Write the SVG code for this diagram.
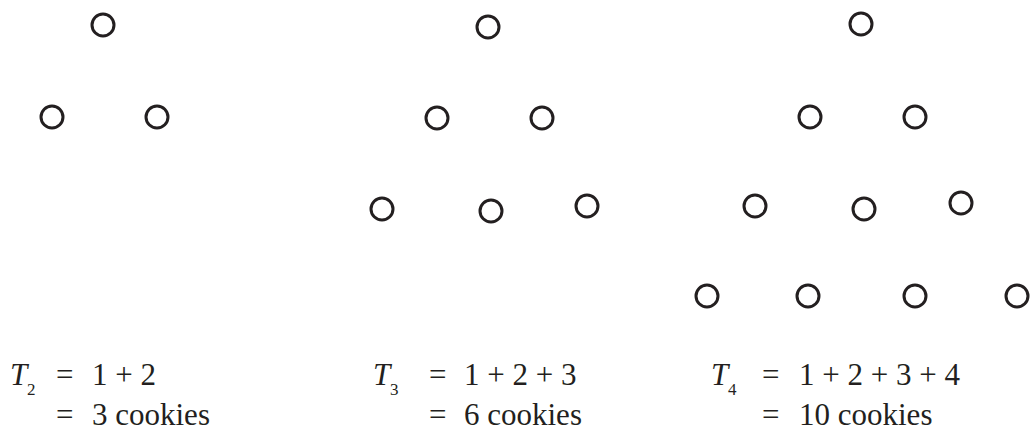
<svg xmlns="http://www.w3.org/2000/svg" width="1031" height="430" viewBox="0 0 1031 430">
<style>
.c{fill:none;stroke:#231f20;stroke-width:3}
.t{font-family:"Liberation Serif","Times New Roman",serif;font-size:31px;fill:#231f20}
.i{font-style:italic}
.s{font-size:17px}
</style>
<rect width="1031" height="430" fill="#fff"/>
<g id="T2">
<circle class="c" cx="103" cy="25" r="11"/>
<circle class="c" cx="52" cy="117" r="11"/>
<circle class="c" cx="157" cy="117" r="11"/>
</g>
<g id="T3">
<circle class="c" cx="488" cy="27" r="11"/>
<circle class="c" cx="437" cy="118" r="11"/>
<circle class="c" cx="542" cy="118" r="11"/>
<circle class="c" cx="382" cy="209" r="11"/>
<circle class="c" cx="491" cy="211" r="11"/>
<circle class="c" cx="587" cy="206" r="11"/>
</g>
<g id="T4">
<circle class="c" cx="861" cy="24" r="11"/>
<circle class="c" cx="810" cy="117" r="11"/>
<circle class="c" cx="915" cy="117" r="11"/>
<circle class="c" cx="755" cy="206" r="11"/>
<circle class="c" cx="864" cy="209" r="11"/>
<circle class="c" cx="961" cy="203" r="11"/>
<circle class="c" cx="707" cy="296" r="11"/>
<circle class="c" cx="808" cy="296" r="11"/>
<circle class="c" cx="915" cy="296" r="11"/>
<circle class="c" cx="1017" cy="296" r="11"/>
</g>
<g id="labels">
<text class="t i" x="10" y="385">T</text>
<text class="t s" x="27" y="395">2</text>
<text class="t" x="56" y="385">=</text>
<text class="t" x="92" y="385">1 + 2</text>
<text class="t" x="56" y="425">=</text>
<text class="t" x="92" y="425">3 cookies</text>

<text class="t i" x="373" y="385">T</text>
<text class="t s" x="390" y="395">3</text>
<text class="t" x="429" y="385">=</text>
<text class="t" x="464" y="385">1 + 2 + 3</text>
<text class="t" x="429" y="425">=</text>
<text class="t" x="464" y="425">6 cookies</text>

<text class="t i" x="711" y="385">T</text>
<text class="t s" x="728" y="395">4</text>
<text class="t" x="762" y="385">=</text>
<text class="t" x="799" y="385">1 + 2 + 3 + 4</text>
<text class="t" x="762" y="425">=</text>
<text class="t" x="799" y="425">10 cookies</text>
</g>
</svg>
